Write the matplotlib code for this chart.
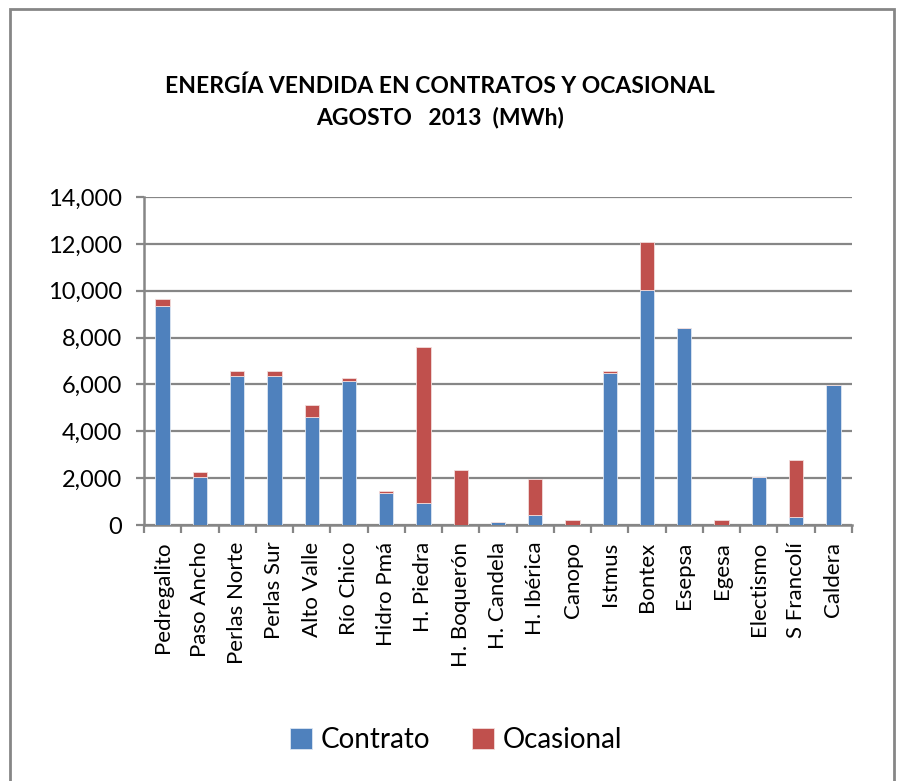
import matplotlib
matplotlib.use("Agg")
import matplotlib.pyplot as plt
import numpy as np
from matplotlib.patches import Rectangle
from matplotlib.ticker import FuncFormatter, FixedLocator

plt.rcParams["font.family"] = ["Lato", "DejaVu Sans"]

# datos (MWh)
categorias = ["Pedregalito", "Paso Ancho", "Perlas Norte", "Perlas Sur", "Alto Valle",
              "Río Chico", "Hidro Pmá", "H. Piedra", "H. Boquerón", "H. Candela",
              "H. Ibérica", "Canopo", "Istmus", "Bontex", "Esepsa", "Egesa",
              "Electismo", "S Francolí", "Caldera"]
contrato = [9330, 2050, 6370, 6370, 4620, 6150, 1350, 940, 0, 120,
            410, 0, 6470, 10040, 8400, 0, 2050, 330, 5960]
ocasional = [310, 210, 200, 200, 510, 120, 100, 6650, 2360, 0,
             1540, 210, 100, 2060, 0, 210, 0, 2440, 0]
series = ["Contrato", "Ocasional"]

azul = "#4F81BD"
rojo = "#C0504D"
gris = "#868686"

W, H = 899, 781
fig = plt.figure(figsize=(W / 100, H / 100), dpi=100)
ax = fig.add_axes([144 / W, 1 - 525 / H, (852 - 144) / W, (525 - 197) / H])

x = np.arange(len(categorias))
ax.bar(x, contrato, width=0.385, color=azul, edgecolor="#dce6f2", linewidth=0.6,
       label=series[0], zorder=3)
ax.bar(x, ocasional, width=0.385, bottom=contrato, color=rojo, edgecolor="#f2dcdb",
       linewidth=0.6, label=series[1], zorder=3)

ax.set_xlim(-0.5, len(categorias) - 0.5)
ax.set_ylim(0, 14000)
ax.set_yticks(np.arange(0, 14001, 2000))
ax.yaxis.set_major_formatter(FuncFormatter(lambda v, p: f"{int(v):,}"))
ax.grid(axis="y", color=gris, linewidth=1.6, zorder=0)

ax.set_xticks(x)
ax.set_xticklabels(categorias, rotation=90, fontsize=16)
ax.xaxis.set_minor_locator(FixedLocator(np.arange(-0.5, len(categorias), 1)))
ax.tick_params(axis="x", which="major", length=0, pad=12)
ax.tick_params(axis="x", which="minor", length=6, width=1.6, color=gris)
ax.tick_params(axis="y", length=6, width=1.6, color=gris, labelsize=17, pad=10)

for s in ["top", "right"]:
    ax.spines[s].set_visible(False)
for s in ["left", "bottom"]:
    ax.spines[s].set_color(gris)
    ax.spines[s].set_linewidth(1.8)

fig.text(440 / W, 1 - 86 / H, "ENERGÍA VENDIDA EN CONTRATOS Y OCASIONAL",
         ha="center", va="center", fontsize=16.5, fontweight="bold")
fig.text(440 / W, 1 - 117 / H, "AGOSTO   2013  (MWh)",
         ha="center", va="center", fontsize=16.5, fontweight="bold")

fig.legend(loc="center", bbox_to_anchor=(456 / W, 1 - 740 / H), ncol=2, frameon=False,
           fontsize=20, handlelength=0.8, handleheight=0.8, handletextpad=0.3,
           columnspacing=1.5)

fig.patches.append(Rectangle((10 / W, -0.02), (894 - 10) / W, 0.02 + 1 - 9 / H,
                             transform=fig.transFigure, fill=False,
                             edgecolor=gris, linewidth=2))

fig.savefig("out.png", dpi=100)
